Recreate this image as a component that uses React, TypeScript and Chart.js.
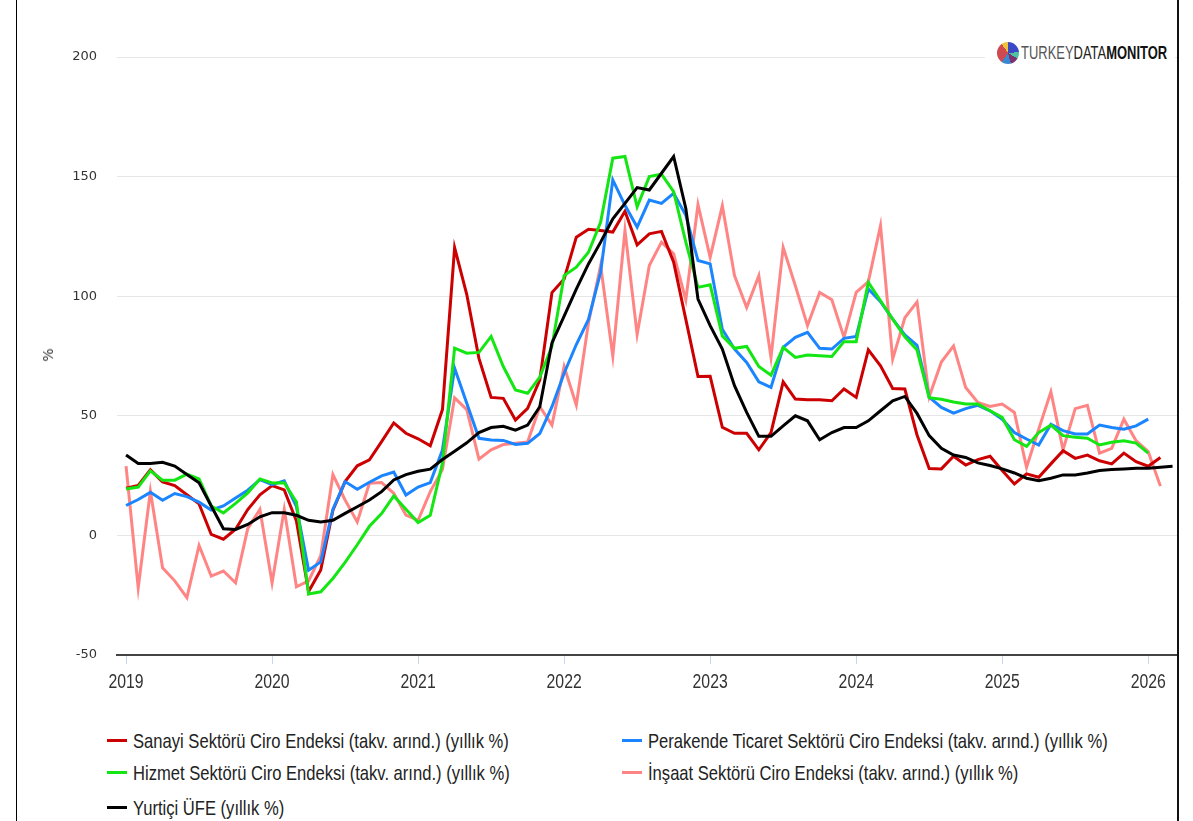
import React, { useEffect, useRef } from "react";
import { Chart, registerables } from "chart.js";

Chart.register(...registerables);

// ---- Data (monthly, starting January 2019) ----
const START_YEAR = 2019;
const yearTicks = [2019, 2020, 2021, 2022, 2023, 2024, 2025, 2026];
const yTicks = [-50, 0, 50, 100, 150, 200];

const sanayi = [
  19.7, 20.9, 27.4, 22.4, 20.8, 17.0, 13.2, 0.4, -1.6, 2.6, 10.8, 17.0,
  20.8, 19.0, 6.0, -23.5, -14.5, 10.5, 22.5, 29.1, 31.6, 39.2, 47.0, 42.7,
  40.4, 37.5, 52.6, 120.3, 100.7, 74.0, 57.7, 57.3, 48.2, 53.1, 65.0, 101.5,
  107.2, 124.7, 128.0, 127.5, 126.8, 135.5, 121.5, 126.1, 127.1, 114.2, 90.3, 66.4,
  66.5, 45.2, 42.7, 42.7, 35.8, 43.0, 64.2, 57.0, 56.7, 56.7, 56.3, 61.2,
  57.7, 77.6, 70.9, 61.4, 61.2, 42.0, 28.0, 27.8, 33.1, 29.4, 31.7, 33.1,
  27.1, 21.5, 25.7, 24.3, 29.9, 35.4, 32.2, 33.6, 31.2, 29.9, 34.4, 30.8,
  28.9, 32.6,
];

const perakende = [
  12.5, 15.0, 18.0, 14.7, 17.5, 16.2, 13.9, 10.6, 12.3, 15.6, 18.9, 23.3,
  21.2, 22.8, 12.0, -14.6, -11.1, 10.9, 22.5, 19.3, 22.2, 24.9, 26.5, 16.9,
  20.2, 22.1, 35.7, 69.9, 55.2, 40.6, 39.9, 39.7, 38.0, 38.5, 42.6, 53.8,
  67.8, 79.8, 90.3, 110.0, 148.6, 138.0, 128.9, 140.2, 138.8, 143.0, 133.8, 114.9,
  113.5, 86.2, 77.9, 72.3, 64.2, 61.9, 78.6, 82.8, 84.9, 78.2, 77.9, 82.4,
  83.2, 103.0, 97.7, 90.4, 83.8, 79.5, 57.8, 53.5, 51.1, 53.0, 54.4, 52.1,
  48.6, 43.0, 40.3, 37.8, 46.5, 43.8, 42.4, 42.4, 46.1, 45.1, 44.4, 45.8,
  48.6,
];

const hizmet = [
  19.4, 20.2, 27.0, 23.1, 23.1, 25.6, 23.6, 12.3, 9.4, 13.4, 17.8, 23.6,
  21.9, 22.0, 14.0, -24.5, -23.6, -18.0, -11.3, -3.9, 3.8, 9.1, 16.5, 10.9,
  5.4, 8.4, 30.2, 78.3, 76.2, 76.5, 83.2, 70.6, 60.8, 59.4, 66.2, 79.1,
  108.6, 112.1, 118.4, 131.0, 157.7, 158.4, 137.4, 150.0, 151.0, 143.7, 122.6, 103.7,
  104.8, 83.4, 78.2, 79.0, 70.6, 67.0, 78.6, 74.4, 75.4, 75.1, 74.8, 81.0,
  81.0, 105.8, 98.1, 90.4, 83.0, 77.5, 57.6, 56.9, 55.8, 54.9, 54.9, 52.1,
  49.3, 40.0, 37.2, 43.0, 46.1, 41.7, 41.0, 40.6, 37.8, 38.9, 39.6, 38.6,
  34.4,
];

const insaat = [
  29.0, -21.9, 18.5, -13.5, -19.0, -26.0, -4.2, -17.0, -14.9, -19.8, 2.8, 10.9,
  -19.8, 10.9, -21.5, -19.0, -8.5, 25.4, 14.8, 5.6, 21.8, 22.1, 17.6, 8.5,
  6.3, 18.3, 27.5, 57.5, 52.6, 31.9, 35.8, 38.0, 38.5, 39.0, 53.8, 46.1,
  70.6, 54.5, 88.9, 112.8, 74.9, 127.5, 84.0, 112.8, 122.6, 117.7, 98.4, 138.3,
  116.2, 137.8, 108.6, 95.3, 108.6, 74.4, 120.4, 104.4, 87.7, 101.6, 98.5, 82.8,
  101.6, 106.1, 129.5, 73.7, 91.0, 97.6, 58.0, 72.5, 79.2, 61.8, 55.6, 53.9,
  54.9, 51.4, 28.5, 44.4, 60.0, 35.8, 53.0, 54.4, 34.4, 36.4, 48.6, 39.6,
  35.0, 20.6,
];

const ufe = [
  33.6, 30.1, 30.1, 30.6, 29.0, 25.5, 22.0, 12.3, 2.8, 2.5, 4.6, 7.8,
  9.5, 9.5, 8.4, 6.3, 5.6, 6.3, 9.2, 12.0, 14.8, 18.3, 23.2, 25.4,
  26.8, 27.7, 31.7, 35.2, 38.7, 43.0, 45.1, 45.6, 44.0, 46.1, 53.8, 80.5,
  91.7, 103.0, 113.5, 122.6, 132.4, 138.8, 145.4, 144.4, 151.4, 158.4, 136.7, 98.8,
  87.7, 77.9, 62.6, 51.4, 41.4, 41.4, 45.8, 50.0, 47.9, 40.0, 43.0, 45.1,
  45.1, 47.9, 52.1, 56.3, 58.1, 51.0, 41.7, 36.4, 33.6, 32.6, 30.3, 29.2,
  27.8, 26.1, 23.9, 22.9, 23.9, 25.3, 25.3, 26.1, 27.1, 27.5, 27.8, 28.1,
  28.1, 28.5, 28.9,
];

const seriesNames = [
  "Sanayi Sektörü Ciro Endeksi (takv. arınd.) (yıllık %)",
  "Perakende Ticaret Sektörü Ciro Endeksi (takv. arınd.) (yıllık %)",
  "Hizmet Sektörü Ciro Endeksi (takv. arınd.) (yıllık %)",
  "İnşaat Sektörü Ciro Endeksi (takv. arınd.) (yıllık %)",
  "Yurtiçi ÜFE (yıllık %)",
];
const seriesValues = [sanayi, perakende, hizmet, insaat, ufe];
const seriesColors = ["#cc0000", "#1a85ff", "#14e614", "#ff8585", "#000000"];
const seriesOrder = [4, 3, 2, 5, 1];

const SANS = "'Liberation Sans', Arial, sans-serif";
const CONDENSE = 0.79;

const toPoints = (arr: number[]) => arr.map((v, i) => ({ x: START_YEAR + i / 12, y: v }));

// draws the x tick labels of the x scale in a condensed style
const condensedXLabels = {
  id: "condensedXLabels",
  afterDraw(chart: any) {
    const scale = chart.scales.x;
    const ctx = chart.ctx;
    ctx.save();
    ctx.font = `20px ${SANS}`;
    ctx.fillStyle = "#333";
    ctx.textAlign = "center";
    ctx.textBaseline = "middle";
    scale.ticks.forEach((t: any) => {
      const px = scale.getPixelForValue(t.value);
      ctx.save();
      ctx.translate(px, scale.top + 27);
      ctx.scale(CONDENSE, 1);
      ctx.fillText(String(Math.round(t.value)), 0, 0);
      ctx.restore();
    });
    ctx.restore();
  },
};

export default function App() {
  const ref = useRef<HTMLCanvasElement | null>(null);

  useEffect(() => {
    if (!ref.current) return;
    const chart = new Chart(ref.current, {
      type: "line",
      data: {
        datasets: seriesValues.map((vals, k) => ({
          label: seriesNames[k],
          data: toPoints(vals),
          borderColor: seriesColors[k],
          backgroundColor: seriesColors[k],
          borderWidth: 3,
          pointRadius: 0,
          tension: 0,
          fill: false,
          order: seriesOrder[k],
        })),
      },
      options: {
        animation: false,
        responsive: false,
        maintainAspectRatio: false,
        devicePixelRatio: 1,
        layout: { padding: { left: 0, right: 16, top: 57, bottom: 0 } },
        plugins: { legend: { display: false }, tooltip: { enabled: false } },
        scales: {
          x: {
            type: "linear",
            min: 2018.938,
            max: 2026.197,
            afterBuildTicks: (s: any) => {
              s.ticks = yearTicks.map((v) => ({ value: v }));
            },
            afterFit: (s: any) => {
              s.height = 45;
            },
            ticks: { display: false, autoSkip: false },
            grid: {
              drawOnChartArea: false,
              drawTicks: true,
              tickLength: 9,
              color: "#ccd6eb",
              lineWidth: 1,
            },
            border: { display: true, color: "#444", width: 2 },
          },
          y: {
            min: -50,
            max: 200,
            afterBuildTicks: (s: any) => {
              s.ticks = yTicks.map((v) => ({ value: v }));
            },
            afterFit: (s: any) => {
              s.width = 117;
            },
            ticks: {
              padding: 20,
              color: "#333",
              font: { family: "'DejaVu Sans', sans-serif", size: 13 },
            },
            grid: { color: "#e6e6e6", lineWidth: 1, drawTicks: false },
            border: { display: false },
          },
        },
      },
      plugins: [condensedXLabels],
    });
    return () => chart.destroy();
  }, []);

  const legendPos = [
    { left: 107, top: 741 },
    { left: 622, top: 741 },
    { left: 107, top: 773 },
    { left: 622, top: 773 },
    { left: 107, top: 808 },
  ];

  return (
    <div style={{ position: "fixed", left: 0, top: 0, width: 1193, height: 821, background: "#fff", overflow: "hidden" }}>
      <canvas ref={ref} width={1193} height={700} style={{ position: "absolute", left: 0, top: 0, width: 1193, height: 700 }} />
      <div style={{ position: "absolute", left: 16, top: 0, width: 1, height: 821, background: "#000" }} />
      <div style={{ position: "absolute", left: 1177, top: 0, width: 2, height: 821, background: "#111" }} />
      <div
        style={{
          position: "absolute",
          left: 48,
          top: 355,
          transform: "translate(-50%, -50%) rotate(-90deg)",
          font: "14px 'DejaVu Sans', sans-serif",
          color: "#333",
        }}
      >
        %
      </div>
      <div
        style={{
          position: "absolute",
          left: 985,
          top: 38,
          width: 190,
          height: 32,
          background: "#fff",
          overflow: "hidden",
        }}
      >
        <div
          style={{
            position: "absolute",
            left: 12,
            top: 4,
            width: 22,
            height: 22,
            borderRadius: "50%",
            background:
              "conic-gradient(#3b49c4 0deg 85deg, #4fc3a1 85deg 120deg, #7b3470 120deg 165deg, #3a88d2 165deg 215deg, #cf4a50 215deg 325deg, #f0c23b 325deg 360deg)",
          }}
        />
        <div
          style={{
            position: "absolute",
            left: 36,
            top: 15,
            transform: "translateY(-50%) scaleX(0.72)",
            transformOrigin: "left center",
            font: `18px ${SANS}`,
            whiteSpace: "nowrap",
            lineHeight: "20px",
          }}
        >
          <span style={{ color: "#555", fontWeight: 300 }}>TURKEY</span>
          <span style={{ color: "#222" }}>DATA</span>
          <span style={{ color: "#111", fontWeight: 700 }}>MONITOR</span>
        </div>
      </div>
      {seriesNames.map((name, k) => (
        <div
          key={name}
          style={{
            position: "absolute",
            left: legendPos[k].left,
            top: legendPos[k].top,
            height: 0,
            whiteSpace: "nowrap",
          }}
        >
          <div style={{ position: "absolute", left: 0, top: -2, width: 20, height: 3, background: seriesColors[k] }} />
          <span
            style={{
              position: "absolute",
              left: 26,
              top: 0,
              transform: `translateY(-50%) scaleX(${CONDENSE})`,
              transformOrigin: "left center",
              font: `21px ${SANS}`,
              lineHeight: "24px",
              color: "#222",
            }}
          >
            {name}
          </span>
        </div>
      ))}
    </div>
  );
}
